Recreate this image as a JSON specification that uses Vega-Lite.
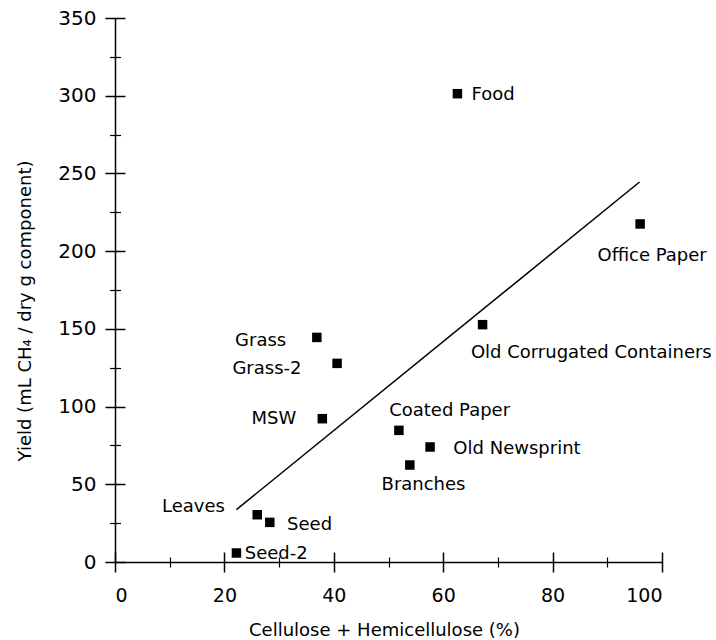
{
  "$schema": "https://vega.github.io/schema/vega-lite/v6.json",
  "width": 547,
  "height": 544,
  "autosize": {"type": "none"},
  "padding": {"left": 115, "top": 18, "right": 54, "bottom": 78},
  "background": "white",
  "config": {
    "view": {"stroke": null},
    "font": "DejaVu Sans",
    "axis": {"grid": false, "domainColor": "black", "tickColor": "black", "labelColor": "black", "titleColor": "black", "labelFont": "DejaVu Sans", "titleFont": "DejaVu Sans", "titleFontWeight": "normal"},
    "text": {"font": "DejaVu Sans", "fontSize": 18, "color": "black", "baseline": "alphabetic"}
  },
  "datasets": {
    "pts": [
      {"name": "Food", "x": 62.6, "y": 301.3},
      {"name": "Office Paper", "x": 96.0, "y": 217.5},
      {"name": "Old Corrugated Containers", "x": 67.2, "y": 152.7},
      {"name": "Grass", "x": 36.9, "y": 144.5},
      {"name": "Grass-2", "x": 40.6, "y": 127.8},
      {"name": "MSW", "x": 37.9, "y": 92.2},
      {"name": "Coated Paper", "x": 51.9, "y": 84.7},
      {"name": "Old Newsprint", "x": 57.6, "y": 74.0},
      {"name": "Branches", "x": 53.9, "y": 62.4},
      {"name": "Leaves", "x": 26.0, "y": 30.4},
      {"name": "Seed", "x": 28.3, "y": 25.5},
      {"name": "Seed-2", "x": 22.2, "y": 5.8}
    ],
    "fit": [
      {"x": 22.2, "y": 33.7},
      {"x": 95.9, "y": 244.5}
    ]
  },
  "resolve": {"axis": {"x": "independent", "y": "independent"}},
  "layer": [
    {
      "data": {"name": "pts"},
      "mark": {"type": "square", "size": 90, "color": "black", "opacity": 1},
      "encoding": {
        "x": {"field": "x", "type": "quantitative", "scale": {"domain": [0, 100], "nice": false, "zero": false},
          "axis": {"orient": "bottom", "values": [0, 20, 40, 60, 80, 100], "ticks": false, "tickSize": 0, "domain": true, "domainWidth": 1.5, "labelFontSize": 19, "labelPadding": 24, "labelBaseline": "top", "title": "Cellulose + Hemicellulose (%)", "titleFontSize": 18, "titleBaseline": "alphabetic", "titleX": 269, "titleY": 73.4}},
        "y": {"field": "y", "type": "quantitative", "scale": {"domain": [0, 350], "nice": false, "zero": false},
          "axis": {"orient": "left", "values": [0, 50, 100, 150, 200, 250, 300, 350], "ticks": false, "tickSize": 0, "domain": true, "domainWidth": 1.5, "labelFontSize": 20, "labelPadding": 19, "title": "Yield (mL CH₄ / dry g component)", "titleFontSize": 18, "titleBaseline": "alphabetic", "titleAngle": -90, "titleAlign": "center", "titleX": -85, "titleY": 292.5}}
      }
    },
    {
      "data": {"name": "fit"},
      "mark": {"type": "line", "color": "black", "strokeWidth": 1.5},
      "encoding": {
        "x": {"field": "x", "type": "quantitative", "scale": {"domain": [0, 100], "nice": false, "zero": false},
          "axis": {"orient": "bottom", "values": [0, 20, 40, 60, 80, 100], "labels": false, "domain": false, "title": null, "tickSize": 20, "offset": -10, "tickWidth": 1.5}},
        "y": {"field": "y", "type": "quantitative", "scale": {"domain": [0, 350], "nice": false, "zero": false},
          "axis": {"orient": "left", "values": [0, 50, 100, 150, 200, 250, 300, 350], "labels": false, "domain": false, "title": null, "tickSize": 20, "offset": -10, "tickWidth": 1.5}}
      }
    },
    {
      "data": {"name": "pts"},
      "transform": [{"filter": "datum.name === 'Food'"}],
      "mark": {"type": "text", "align": "left", "dx": 14, "dy": 6},
      "encoding": {
        "x": {"field": "x", "type": "quantitative",
          "axis": {"orient": "bottom", "values": [10, 30, 50, 70, 90], "labels": false, "domain": false, "title": null, "tickSize": 10, "offset": -5, "tickWidth": 1.2}},
        "y": {"field": "y", "type": "quantitative",
          "axis": {"orient": "left", "values": [25, 75, 125, 175, 225, 275, 325], "labels": false, "domain": false, "title": null, "tickSize": 11, "offset": -5.5, "tickWidth": 1.2}},
        "text": {"field": "name"}
      }
    },
    {
      "data": {"name": "pts"},
      "transform": [{"filter": "datum.name === 'Office Paper'"}],
      "mark": {"type": "text", "align": "center", "dx": 12, "dy": 37.4},
      "encoding": {"x": {"field": "x", "type": "quantitative", "axis": null}, "y": {"field": "y", "type": "quantitative", "axis": null}, "text": {"field": "name"}}
    },
    {
      "data": {"name": "pts"},
      "transform": [{"filter": "datum.name === 'Old Corrugated Containers'"}],
      "mark": {"type": "text", "align": "left", "dx": -11.7, "dy": 33.3},
      "encoding": {"x": {"field": "x", "type": "quantitative", "axis": null}, "y": {"field": "y", "type": "quantitative", "axis": null}, "text": {"field": "name"}}
    },
    {
      "data": {"name": "pts"},
      "transform": [{"filter": "datum.name === 'Coated Paper'"}],
      "mark": {"type": "text", "align": "left", "dx": -9.7, "dy": -14.7},
      "encoding": {"x": {"field": "x", "type": "quantitative", "axis": null}, "y": {"field": "y", "type": "quantitative", "axis": null}, "text": {"field": "name"}}
    },
    {
      "data": {"name": "pts"},
      "transform": [{"filter": "datum.name === 'Old Newsprint'"}],
      "mark": {"type": "text", "align": "left", "dx": 23.3, "dy": 7},
      "encoding": {"x": {"field": "x", "type": "quantitative", "axis": null}, "y": {"field": "y", "type": "quantitative", "axis": null}, "text": {"field": "name"}}
    },
    {
      "data": {"name": "pts"},
      "transform": [{"filter": "datum.name === 'Branches'"}],
      "mark": {"type": "text", "align": "left", "dx": -28.3, "dy": 25.4},
      "encoding": {"x": {"field": "x", "type": "quantitative", "axis": null}, "y": {"field": "y", "type": "quantitative", "axis": null}, "text": {"field": "name"}}
    },
    {
      "data": {"name": "pts"},
      "transform": [{"filter": "datum.name === 'Grass'"}],
      "mark": {"type": "text", "align": "right", "dx": -30.6, "dy": 8.3},
      "encoding": {"x": {"field": "x", "type": "quantitative", "axis": null}, "y": {"field": "y", "type": "quantitative", "axis": null}, "text": {"field": "name"}}
    },
    {
      "data": {"name": "pts"},
      "transform": [{"filter": "datum.name === 'Grass-2'"}],
      "mark": {"type": "text", "align": "right", "dx": -35.6, "dy": 10.3},
      "encoding": {"x": {"field": "x", "type": "quantitative", "axis": null}, "y": {"field": "y", "type": "quantitative", "axis": null}, "text": {"field": "name"}}
    },
    {
      "data": {"name": "pts"},
      "transform": [{"filter": "datum.name === 'MSW'"}],
      "mark": {"type": "text", "align": "right", "dx": -26, "dy": 5},
      "encoding": {"x": {"field": "x", "type": "quantitative", "axis": null}, "y": {"field": "y", "type": "quantitative", "axis": null}, "text": {"field": "name"}}
    },
    {
      "data": {"name": "pts"},
      "transform": [{"filter": "datum.name === 'Leaves'"}],
      "mark": {"type": "text", "align": "right", "dx": -32.3, "dy": -2.3},
      "encoding": {"x": {"field": "x", "type": "quantitative", "axis": null}, "y": {"field": "y", "type": "quantitative", "axis": null}, "text": {"field": "name"}}
    },
    {
      "data": {"name": "pts"},
      "transform": [{"filter": "datum.name === 'Seed'"}],
      "mark": {"type": "text", "align": "left", "dx": 17.3, "dy": 7.3},
      "encoding": {"x": {"field": "x", "type": "quantitative", "axis": null}, "y": {"field": "y", "type": "quantitative", "axis": null}, "text": {"field": "name"}}
    },
    {
      "data": {"name": "pts"},
      "transform": [{"filter": "datum.name === 'Seed-2'"}],
      "mark": {"type": "text", "align": "left", "dx": 8.3, "dy": 6},
      "encoding": {"x": {"field": "x", "type": "quantitative", "axis": null}, "y": {"field": "y", "type": "quantitative", "axis": null}, "text": {"field": "name"}}
    }
  ]
}
